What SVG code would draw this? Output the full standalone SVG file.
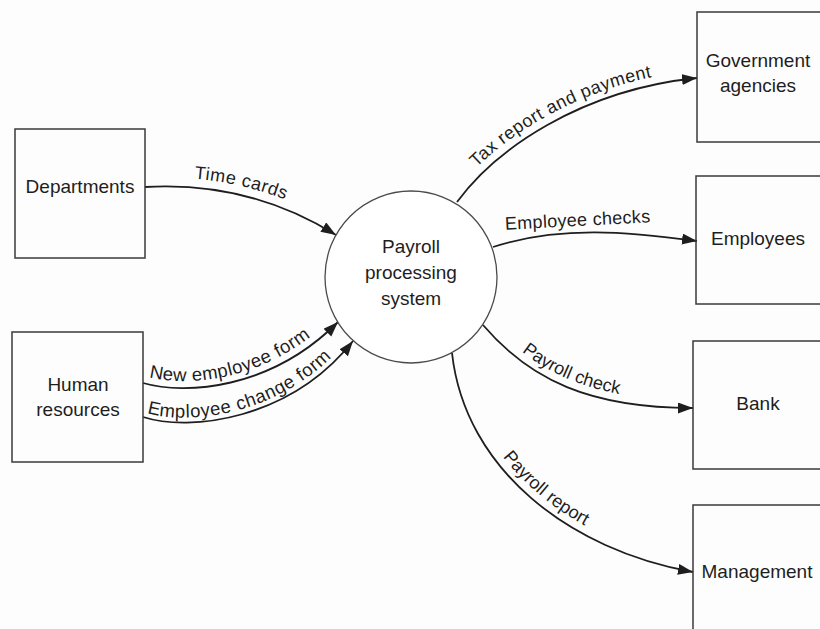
<svg xmlns="http://www.w3.org/2000/svg" width="820" height="629" viewBox="0 0 820 629">
  <style>
    .box { fill: none; stroke: #3a3a3a; stroke-width: 1.5; }
    .proc { fill: #ffffff; stroke: #4a4a4a; stroke-width: 1.3; }
    .name { font-family: "Liberation Sans", Arial, sans-serif; font-size: 19px; fill: #1e1e1e; text-anchor: middle; }
    .flow { fill: none; stroke: #1e1e1e; stroke-width: 1.8; marker-end: url(#arrow); }
    .lbl { font-family: "Liberation Sans", Arial, sans-serif; font-size: 18px; letter-spacing: 0.3px; fill: #1e1e1e; }
    .lbl.wide { font-size: 18.5px; letter-spacing: 0.8px; }
  </style>
  <defs>
    <marker id="arrow" markerWidth="16" markerHeight="12" refX="15" refY="5.5" orient="auto" markerUnits="userSpaceOnUse">
      <path d="M0,0 L15,5.5 L0,11 Z" fill="#1e1e1e"/>
    </marker>
  </defs>
  <rect width="820" height="629" fill="#fdfdfd"/>

  <!-- data flows -->
  <g id="connectors">
    <path id="p-time" class="flow" d="M145,187 C215,183 280,200 336,235"/>
    <path id="p-new" class="flow" d="M143,383 C185,395 270,390 338,322"/>
    <path id="p-change" class="flow" d="M143,417 C190,432 290,420 353,341"/>
    <path id="p-tax" class="flow" d="M457,202 C495,150 580,90 697,78"/>
    <path id="p-checks" class="flow" d="M493,247 C560,225 630,232 697,241"/>
    <path id="p-bank" class="flow" d="M483,325 C530,380 590,408 693,408"/>
    <path id="p-report" class="flow" d="M452,353 C465,470 570,550 693,572"/>

    <text class="lbl" dy="-9"><textPath href="#p-time" startOffset="47%" text-anchor="middle">Time cards</textPath></text>
    <text class="lbl wide" dy="-7"><textPath href="#p-new" startOffset="5" text-anchor="start">New employee form</textPath></text>
    <text class="lbl wide" dy="-5"><textPath href="#p-change" startOffset="3" text-anchor="start">Employee change form</textPath></text>
    <text class="lbl" dy="-8"><textPath href="#p-tax" startOffset="49%" text-anchor="middle">Tax report and payment</textPath></text>
    <text class="lbl" x="578" y="226" text-anchor="middle" transform="rotate(-3 578 226)">Employee checks</text>
    <text class="lbl" dy="-8"><textPath href="#p-bank" startOffset="44%" text-anchor="middle">Payroll check</textPath></text>
    <text class="lbl" dy="-8"><textPath href="#p-report" startOffset="50%" text-anchor="middle">Payroll report</textPath></text>
  </g>

  <g id="departments">
    <rect class="box" x="15" y="129" width="130" height="129"/>
    <text class="name" x="80" y="193">Departments</text>
  </g>
  <g id="human-resources">
    <rect class="box" x="12" y="332" width="131" height="130"/>
    <text class="name" x="78" y="391">Human</text>
    <text class="name" x="78" y="416">resources</text>
  </g>
  <g id="payroll-system">
    <circle class="proc" cx="411" cy="277" r="86"/>
    <text class="name" x="411" y="253">Payroll</text>
    <text class="name" x="411" y="279">processing</text>
    <text class="name" x="411" y="305">system</text>
  </g>
  <g id="government-agencies">
    <rect class="box" x="697" y="12" width="130" height="130"/>
    <text class="name" x="758" y="67">Government</text>
    <text class="name" x="758" y="92">agencies</text>
  </g>
  <g id="employees">
    <rect class="box" x="696" y="176" width="130" height="128"/>
    <text class="name" x="758" y="245">Employees</text>
  </g>
  <g id="bank">
    <rect class="box" x="693" y="341" width="133" height="128"/>
    <text class="name" x="758" y="410">Bank</text>
  </g>
  <g id="management">
    <rect class="box" x="693" y="505" width="133" height="140"/>
    <text class="name" x="757" y="578">Management</text>
  </g>
</svg>
